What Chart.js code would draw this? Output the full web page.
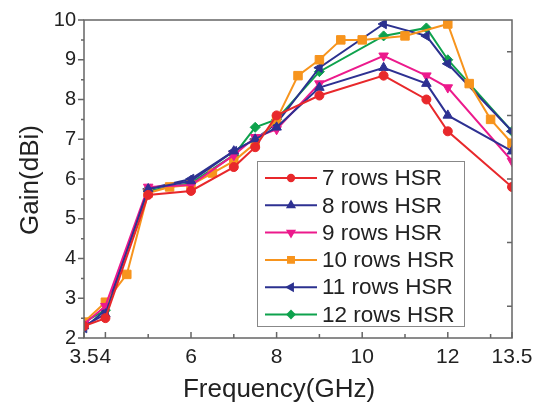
<!DOCTYPE html>
<html><head><meta charset="utf-8">
<script src="https://cdn.jsdelivr.net/npm/chart.js@4/dist/chart.umd.min.js"></script>
<style>html,body{margin:0;padding:0;background:#fff}#wrap{width:544px;height:407px;position:relative}</style>
</head><body><div id="wrap"><canvas id="c" width="544" height="407"></canvas></div>
<script>
// ---- data ----
const freqCommon = [3.5, 4, 5, 6, 7, 7.5, 8, 9, 10.5, 11.5, 12, 13.5];
const freq10rows = [3.5, 4, 4.5, 5, 5.5, 6, 6.5, 7, 7.5, 8, 8.5, 9, 9.5, 10, 11, 12, 12.5, 13, 13.5];
const gain7rows  = [2.3, 2.5, 5.6, 5.7, 6.3, 6.8, 7.6, 8.1, 8.6, 8.0, 7.2, 5.8];
const gain8rows  = [2.3, 2.6, 5.75, 5.95, 6.7, 7.0, 7.3, 8.3, 8.8, 8.4, 7.6, 6.7];
const gain9rows  = [2.35, 2.8, 5.8, 5.85, 6.6, 7.05, 7.25, 8.4, 9.1, 8.6, 8.3, 6.45];
const gain10rows = [2.4, 2.9, 3.6, 5.65, 5.8, 5.85, 6.15, 6.45, 6.9, 7.5, 8.6, 9.0, 9.5, 9.5, 9.6, 9.9, 8.4, 7.5, 6.9];
const gain11rows = [2.25, 2.7, 5.75, 6.0, 6.7, 7.0, 7.4, 8.8, 9.9, 9.6, 8.9, 7.2];
const gain12rows = [2.4, 2.7, 5.7, 5.9, 6.6, 7.3, 7.5, 8.7, 9.6, 9.8, 9.0, 7.2];
const seriesLabels = ['7 rows HSR','8 rows HSR','9 rows HSR','10 rows HSR','11 rows HSR','12 rows HSR'];
const xTickValues = [3.5, 4, 6, 8, 10, 12, 13.5];
const xMinorTickValues = [5, 7, 9, 11, 13];
const yTickValues = [2, 3, 4, 5, 6, 7, 8, 9, 10];
const yMinorTickValues = [2.5, 3.5, 4.5, 5.5, 6.5, 7.5, 8.5, 9.5];
const rightTickValues = [2.8, 4.4, 6.0, 7.6, 9.2];
const xTitle = 'Frequency(GHz)';
const yTitle = 'Gain(dBi)';

const pts = (xs, ys) => xs.map((x, i) => ({x, y: ys[i]}));
const FONT = "'Liberation Sans', Arial, sans-serif";

function ds(label, xs, ys, color, style, rot, r) {
  return {label, data: pts(xs, ys), borderColor: color, backgroundColor: color,
    borderWidth: 2, pointStyle: style, pointRotation: rot, pointRadius: r,
    pointBorderWidth: 1, pointHoverRadius: r, tension: 0};
}

const datasets = [
  ds(seriesLabels[0], freqCommon, gain7rows, '#e8282b', 'circle', 0, 4.5),
  ds(seriesLabels[1], freqCommon, gain8rows, '#2e3192', 'triangle', 0, 5.5),
  ds(seriesLabels[2], freqCommon, gain9rows, '#ec1a8c', 'triangle', 180, 5.5),
  ds(seriesLabels[3], freq10rows, gain10rows, '#f7941d', 'rect', 0, 6),
  ds(seriesLabels[4], freqCommon, gain11rows, '#2b318f', 'triangle', -90, 5.5),
  ds(seriesLabels[5], freqCommon, gain12rows, '#0ea24d', 'rectRot', 0, 5),
];

const framePlugin = {
  id: 'frame',
  afterDatasetsDraw(chart) {
    const {ctx, chartArea: a, scales: {x, y}} = chart;
    ctx.save();
    ctx.strokeStyle = '#666';
    ctx.lineWidth = 1.5;
    ctx.strokeRect(a.left, a.top, a.right - a.left, a.bottom - a.top);
    ctx.beginPath();
    yTickValues.forEach(v => { const p = y.getPixelForValue(v); ctx.moveTo(a.left - 6, p); ctx.lineTo(a.left, p); });
    yMinorTickValues.forEach(v => { const p = y.getPixelForValue(v); ctx.moveTo(a.left - 3, p); ctx.lineTo(a.left, p); });
    xTickValues.forEach(v => { const p = x.getPixelForValue(v); ctx.moveTo(p, a.bottom); ctx.lineTo(p, a.bottom - 6); });
    xMinorTickValues.forEach(v => { const p = x.getPixelForValue(v); ctx.moveTo(p, a.bottom); ctx.lineTo(p, a.bottom - 4); });
    rightTickValues.forEach(v => { const p = y.getPixelForValue(v); ctx.moveTo(a.right, p); ctx.lineTo(a.right - 5, p); });
    ctx.stroke();
    // axis titles
    ctx.fillStyle = '#222';
    ctx.font = '26px ' + FONT;
    ctx.textAlign = 'center';
    ctx.textBaseline = 'middle';
    ctx.fillText(xTitle, 279, 390);
    ctx.translate(31, 180);
    ctx.rotate(-Math.PI / 2);
    ctx.fillText(yTitle, 0, 0);
    ctx.restore();
  }
};

const legendPlugin = {
  id: 'boxLegend',
  afterDraw(chart) {
    const {ctx} = chart;
    const box = {x: 257, y: 161, w: 207, h: 165};
    ctx.save();
    ctx.fillStyle = '#fff';
    ctx.fillRect(box.x, box.y, box.w, box.h);
    ctx.strokeStyle = '#888';
    ctx.lineWidth = 1;
    ctx.strokeRect(box.x + 0.5, box.y + 0.5, box.w, box.h);
    chart.data.datasets.forEach((d, i) => {
      const cy = box.y + 17 + i * 27.3;
      ctx.strokeStyle = d.borderColor;
      ctx.lineWidth = 2;
      ctx.beginPath(); ctx.moveTo(265, cy); ctx.lineTo(317, cy); ctx.stroke();
      ctx.fillStyle = d.backgroundColor;
      const opts = {pointStyle: d.pointStyle, rotation: d.pointRotation, radius: d.pointRadius * 0.7, borderWidth: 1};
      if (Chart.helpers && Chart.helpers.drawPoint) {
        Chart.helpers.drawPoint(ctx, opts, 291, cy);
      } else {
        ctx.beginPath(); ctx.arc(291, cy, 3.5, 0, Math.PI * 2); ctx.fill();
      }
      ctx.fillStyle = '#222';
      ctx.font = '22.5px ' + FONT;
      ctx.textBaseline = 'middle';
      ctx.textAlign = 'left';
      ctx.fillText(d.label, 322, cy + 1);
    });
    ctx.restore();
  }
};

new Chart(document.getElementById('c'), {
  type: 'line',
  data: {datasets},
  options: {
    responsive: false,
    devicePixelRatio: 1,
    animation: false,
    layout: {padding: {top: 19, right: 32, left: 0, bottom: 0}},
    plugins: {legend: {display: false}, tooltip: {enabled: false}},
    scales: {
      x: {
        type: 'linear', min: 3.5, max: 13.5,
        afterBuildTicks: s => { s.ticks = xTickValues.map(v => ({value: v})); },
        afterFit: s => { s.height = 69; },
        grid: {display: false, drawTicks: false},
        border: {display: false},
        ticks: {autoSkip: false, maxRotation: 0, padding: 7, color: '#222',
          font: {family: FONT, size: 21}, callback: v => String(v)},
        title: {display: false}
      },
      y: {
        type: 'linear', min: 2, max: 10,
        afterBuildTicks: s => { s.ticks = yTickValues.map(v => ({value: v})); },
        afterFit: s => { s.width = 84; },
        grid: {display: false, drawTicks: false},
        border: {display: false},
        ticks: {padding: 8, color: '#222', font: {family: FONT, size: 20}},
        title: {display: false}
      }
    }
  },
  plugins: [framePlugin, legendPlugin]
});
</script></body></html>
